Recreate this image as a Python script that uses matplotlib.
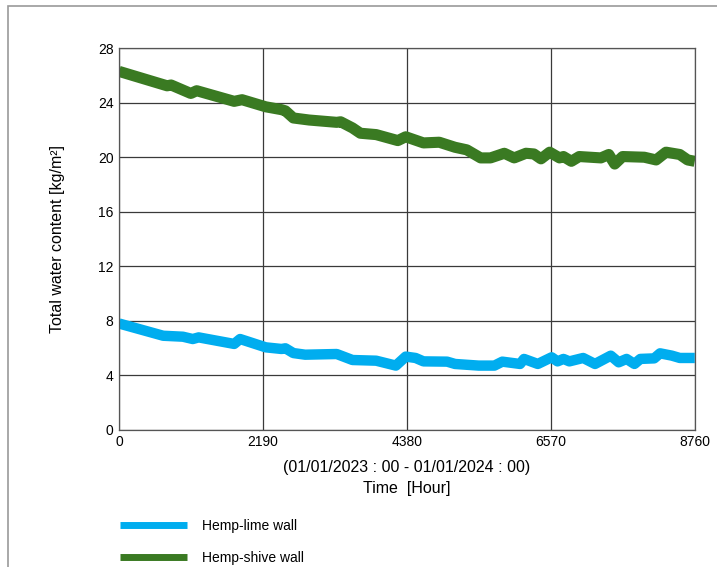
import matplotlib.pyplot as plt
from matplotlib.patches import Rectangle

plt.rcParams['font.family'] = ['Liberation Sans', 'DejaVu Sans']

# hours over the year 2023
shive_hours = [0, 732, 792, 1092, 1182, 1752, 1872, 2232, 2472, 2532, 2652, 2892,
               3312, 3372, 3552, 3672, 3912, 4242, 4362, 4632, 4872, 5112, 5292,
               5502, 5652, 5862, 6012, 6192, 6312, 6420, 6552, 6702, 6762, 6882,
               7002, 7332, 7452, 7542, 7662, 7992, 8172, 8322, 8532, 8652, 8760]
shive_water = [26.3, 25.24, 25.3, 24.68, 24.88, 24.1, 24.22, 23.7, 23.49, 23.4,
               22.88, 22.73, 22.56, 22.6, 22.15, 21.76, 21.66, 21.22, 21.5, 21.05,
               21.1, 20.73, 20.54, 19.95, 19.95, 20.29, 19.95, 20.29, 20.24, 19.88,
               20.37, 19.95, 20.05, 19.7, 20.05, 19.95, 20.2, 19.5, 20.05, 20.0,
               19.8, 20.37, 20.2, 19.8, 19.7]

lime_hours = [0, 672, 972, 1122, 1212, 1752, 1842, 2232, 2472, 2532, 2652, 2832,
              3312, 3552, 3912, 4212, 4362, 4512, 4632, 4992, 5112, 5472, 5712,
              5832, 6102, 6162, 6372, 6582, 6672, 6762, 6852, 7062, 7242, 7482,
              7602, 7722, 7842, 7932, 8142, 8232, 8412, 8532, 8760]
lime_water = [7.8, 6.9, 6.83, 6.66, 6.78, 6.3, 6.66, 6.05, 5.93, 5.98, 5.63, 5.51,
              5.56, 5.12, 5.07, 4.71, 5.37, 5.27, 5.02, 5.0, 4.83, 4.71, 4.71,
              5.0, 4.83, 5.2, 4.83, 5.32, 5.02, 5.2, 5.02, 5.27, 4.83, 5.44,
              4.95, 5.2, 4.83, 5.2, 5.24, 5.61, 5.44, 5.27, 5.27]

x_ticks = [0, 2190, 4380, 6570, 8760]
y_ticks = [0, 4, 8, 12, 16, 20, 24, 28]

fig = plt.figure(figsize=(7.17, 5.67), dpi=100)
ax = fig.add_axes([0.166, 0.242, 0.803, 0.673])

blue = '#00adef'
green = '#3a7a22'
ax.plot(lime_hours, lime_water, color=blue, lw=7.5, solid_capstyle='butt',
        solid_joinstyle='round', label='Hemp-lime wall')
ax.plot(shive_hours, shive_water, color=green, lw=8, solid_capstyle='butt',
        solid_joinstyle='round', label='Hemp-shive wall')

ax.set_xlim(0, 8760)
ax.set_ylim(0, 28)
ax.set_xticks(x_ticks)
ax.set_yticks(y_ticks)
ax.tick_params(length=0, labelsize=10, pad=4)
ax.grid(True, color='#3a3a3a', lw=0.9)
ax.set_axisbelow(True)
for s in ax.spines.values():
    s.set_color('#555555')
    s.set_linewidth(0.9)

ax.set_ylabel('Total water content [kg/m²]', fontsize=11.5, labelpad=24)
ax.set_xlabel('(01/01/2023 : 00 - 01/01/2024 : 00)\nTime  [Hour]', fontsize=11.5,
              labelpad=8, linespacing=1.45)

# legend below the plot
leg = fig.legend(loc='lower left', bbox_to_anchor=(0.15, -0.018), frameon=False,
                 fontsize=10, handlelength=4.8, handletextpad=1.1, labelspacing=1.25)
for h in leg.get_lines():
    h.set_linewidth(5)

# outer frame
fig.patches.append(Rectangle((8 / 717, -0.1), 1.2, 1 - 6 / 567 + 0.1,
                             transform=fig.transFigure, fill=False,
                             edgecolor='#9a9a9a', lw=1.2))

fig.savefig('out.png', dpi=100)
